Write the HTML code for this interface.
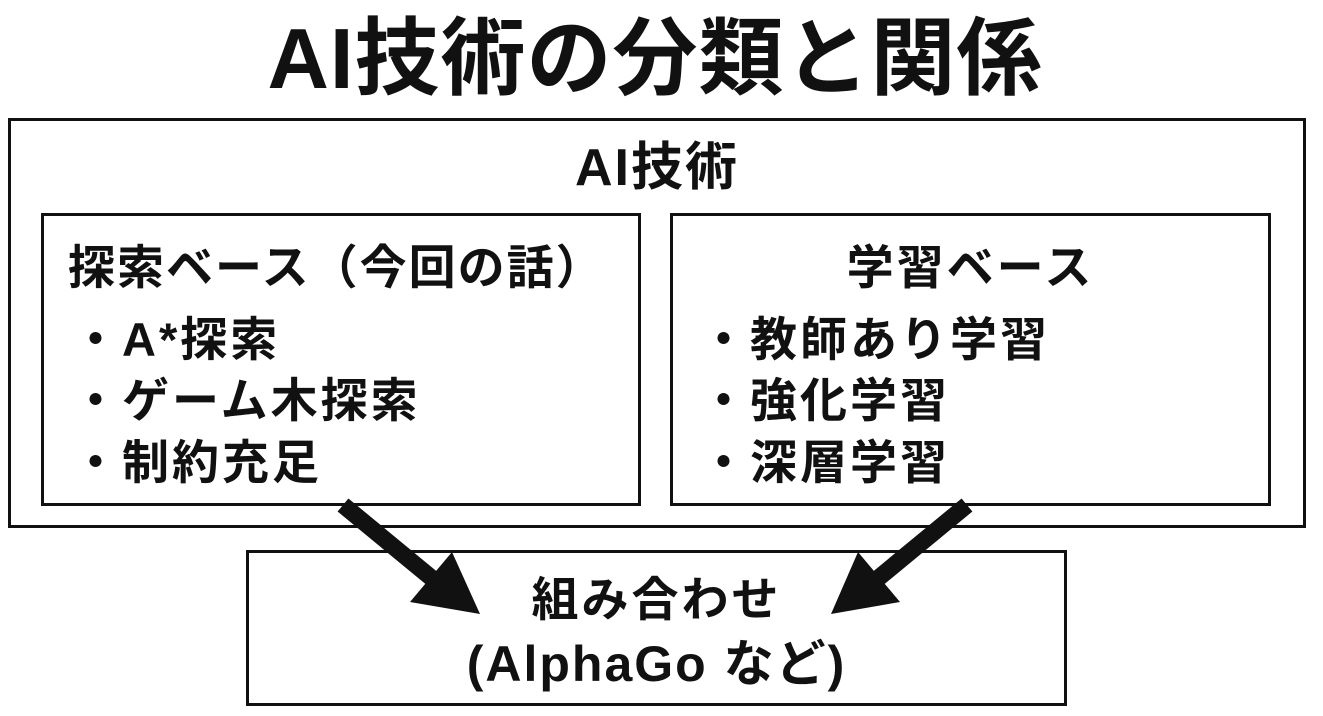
<!DOCTYPE html>
<html><head><meta charset="utf-8"><style>
body{margin:0;width:1323px;height:716px;background:#fff;position:relative;overflow:hidden;font-family:"Liberation Sans","Noto Sans CJK JP",sans-serif;font-weight:bold;color:#111}
.b{position:absolute;border:3px solid #111;box-sizing:border-box;background:#fff}
.t{position:absolute;white-space:nowrap;font-size:47px;line-height:56px;letter-spacing:3px}
</style></head><body>
<div class="t" style="left:0;width:1310px;top:8px;text-align:center;font-size:85px;line-height:104px;letter-spacing:1px">AI技術の分類と関係</div>
<div class="b" style="left:8px;top:118px;width:1298px;height:410px"></div>
<div class="t" style="left:8px;width:1298px;top:140px;text-align:center;font-size:52px;line-height:56px;letter-spacing:2px">AI技術</div>
<div class="b" style="left:41px;top:213px;width:600px;height:293px"></div>
<div class="b" style="left:670px;top:213px;width:601px;height:293px"></div>
<div class="t" style="left:68px;top:240px;letter-spacing:2px">探索ベース（今回の話）</div>
<div class="t" style="left:72px;top:312px">・A*探索</div>
<div class="t" style="left:72px;top:373px">・ゲーム木探索</div>
<div class="t" style="left:72px;top:435px">・制約充足</div>
<div class="t" style="left:670px;width:601px;top:240px;text-align:center">学習ベース</div>
<div class="t" style="left:700px;top:312px">・教師あり学習</div>
<div class="t" style="left:700px;top:373px">・強化学習</div>
<div class="t" style="left:700px;top:435px">・深層学習</div>
<div class="b" style="left:246px;top:550px;width:821px;height:156px"></div>
<div class="t" style="left:246px;width:821px;top:572px;text-align:center">組み合わせ</div>
<div class="t" style="left:246px;width:821px;top:636px;text-align:center;font-size:50px;letter-spacing:2px">(AlphaGo など)</div>
<svg width="1323" height="716" style="position:absolute;left:0;top:0">
<line x1="343" y1="505" x2="440" y2="585" stroke="#111" stroke-width="17"/>
<polygon points="480,614 410,602 452,552" fill="#111"/>
<line x1="967" y1="505" x2="870" y2="585" stroke="#111" stroke-width="17"/>
<polygon points="831,614 858,552 900,602" fill="#111"/>
</svg>
</body></html>
